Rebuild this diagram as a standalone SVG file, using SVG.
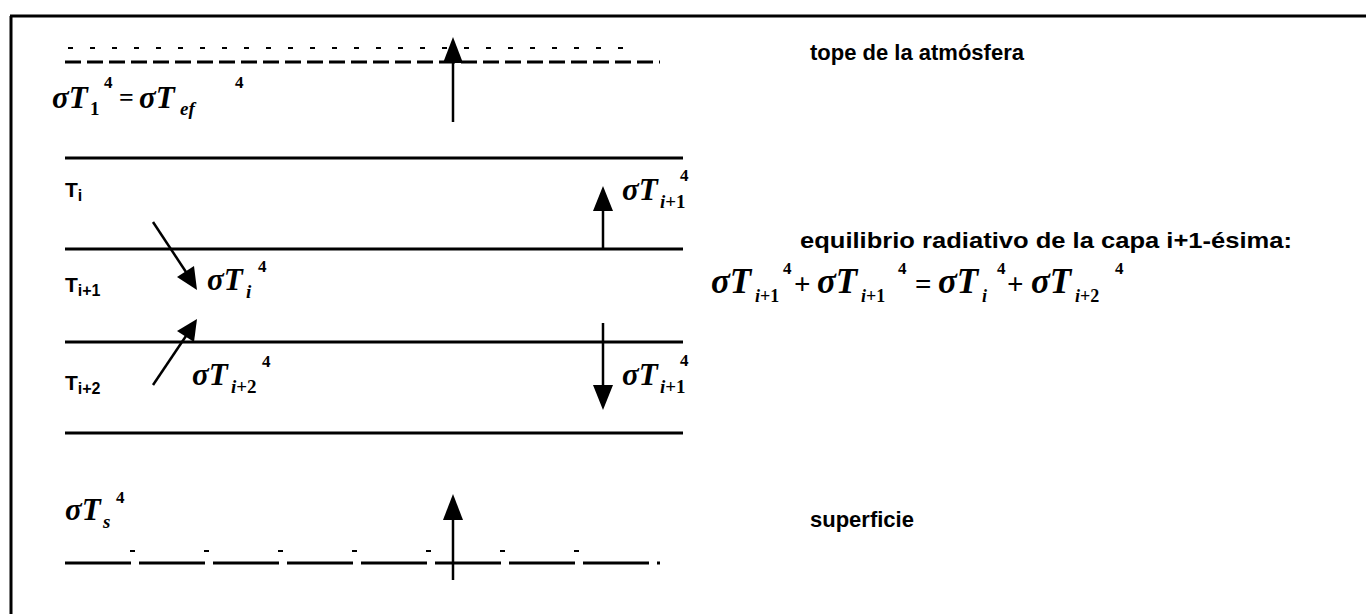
<svg xmlns="http://www.w3.org/2000/svg" width="1366" height="614" viewBox="0 0 1366 614">
<defs>
<style>
.ln{stroke:#000;stroke-width:3;fill:none}
.ar{stroke:#000;stroke-width:2.5;fill:none}
.m{font-family:"Liberation Serif",serif;font-style:italic;font-weight:bold;font-size:31px;fill:#000}
.me{font-family:"Liberation Serif",serif;font-style:italic;font-weight:bold;font-size:35px;fill:#000}
.sb{font-family:"Liberation Serif",serif;font-style:italic;font-weight:bold;font-size:19px;fill:#000}
.sbe{font-family:"Liberation Serif",serif;font-style:italic;font-weight:bold;font-size:18px;fill:#000}
.up{font-style:normal}
.sp{font-family:"Liberation Serif",serif;font-weight:bold;font-size:17px;fill:#000}
.op{font-family:"Liberation Serif",serif;font-weight:bold;font-size:26px;fill:#000}
.ope{font-family:"Liberation Serif",serif;font-weight:bold;font-size:29px;fill:#000}
.t{font-family:"Liberation Sans",Arial,sans-serif;font-weight:bold;font-size:22px;fill:#000}
.tl{font-family:"Liberation Sans",Arial,sans-serif;font-weight:bold;font-size:21px;fill:#000}
.ts{font-size:16px}
</style>
</defs>
<rect width="1366" height="614" fill="#fff"/>
<g id="frame">
<line class="ln" x1="10" y1="16" x2="1366" y2="16"/>
<line class="ln" x1="11" y1="16" x2="11" y2="614"/>
</g>
<g id="layers">
<line x1="65" y1="62" x2="660" y2="62" stroke="#000" stroke-width="3" stroke-dasharray="16,6"/>
<line x1="68" y1="48" x2="640" y2="48" stroke="#000" stroke-width="2" stroke-dasharray="5,17"/>
<line class="ln" x1="65" y1="158" x2="683" y2="158"/>
<line class="ln" x1="65" y1="249" x2="683" y2="249"/>
<line class="ln" x1="65" y1="342" x2="683" y2="342"/>
<line class="ln" x1="65" y1="433" x2="683" y2="433"/>
<line x1="65" y1="563" x2="660" y2="563" stroke="#000" stroke-width="3" stroke-dasharray="66,8"/>
<line x1="130" y1="551" x2="600" y2="551" stroke="#000" stroke-width="2" stroke-dasharray="5,69"/>
</g>
<g id="connectors">
<line class="ar" x1="453" y1="122" x2="453" y2="60"/>
<path d="M453,37 L443,63 L463,63 Z" fill="#000"/>
<line class="ar" x1="603" y1="249" x2="603" y2="208"/>
<path d="M603,186 L593,211 L613,211 Z" fill="#000"/>
<line class="ar" x1="603" y1="323" x2="603" y2="388"/>
<path d="M603,410 L593,385 L613,385 Z" fill="#000"/>
<line class="ar" x1="153" y1="222" x2="186" y2="272"/>
<path d="M197,290 L177,277 L194,266 Z" fill="#000"/>
<line class="ar" x1="153" y1="385" x2="186" y2="336"/>
<path d="M197,319 L194,342 L177,331 Z" fill="#000"/>
<line class="ar" x1="453" y1="580" x2="453" y2="518"/>
<path d="M453,494 L443,520 L463,520 Z" fill="#000"/>
</g>
<g id="label-top">
<text class="m" x="52" y="108">σT</text>
<text class="sb up" x="90" y="115">1</text>
<text class="sp" x="104" y="88">4</text>
<text class="op" x="119" y="106">=</text>
<text class="m" x="139" y="108">σT</text>
<text class="sb" x="180" y="115">ef</text>
<text class="sp" x="235" y="88">4</text>
</g>
<g id="label-Ti">
<text class="tl" x="65" y="197">T<tspan class="ts" dy="4">i</tspan></text>
</g>
<g id="label-Ti1">
<text class="tl" x="65" y="292">T<tspan class="ts" dy="4">i+1</tspan></text>
</g>
<g id="label-Ti2">
<text class="tl" x="65" y="390">T<tspan class="ts" dy="4">i+2</tspan></text>
</g>
<g id="flux-up-i1">
<text class="m" x="622" y="200">σT</text>
<text class="sb" x="660" y="208">i<tspan class="up">+1</tspan></text>
<text class="sp" x="680" y="181">4</text>
</g>
<g id="flux-Ti">
<text class="m" x="207" y="290">σT</text>
<text class="sb" x="246" y="298">i</text>
<text class="sp" x="258" y="272">4</text>
</g>
<g id="flux-Ti2">
<text class="m" x="192" y="385">σT</text>
<text class="sb" x="231" y="393">i<tspan class="up">+2</tspan></text>
<text class="sp" x="262" y="367">4</text>
</g>
<g id="flux-down-i1">
<text class="m" x="622" y="385">σT</text>
<text class="sb" x="660" y="393">i<tspan class="up">+1</tspan></text>
<text class="sp" x="680" y="366">4</text>
</g>
<g id="label-Ts">
<text class="m" x="65" y="520">σT</text>
<text class="sb" x="103" y="528">s</text>
<text class="sp" x="116" y="503">4</text>
</g>
<g id="equation">
<text class="me" x="711" y="293">σT</text>
<text class="sbe" x="755" y="302">i<tspan class="up">+1</tspan></text>
<text class="sp" x="783" y="274">4</text>
<text class="ope" x="794" y="294">+</text>
<text class="me" x="817" y="293">σT</text>
<text class="sbe" x="861" y="302">i<tspan class="up">+1</tspan></text>
<text class="sp" x="898" y="274">4</text>
<text class="ope" x="915" y="294">=</text>
<text class="me" x="938" y="293">σT</text>
<text class="sbe" x="982" y="302">i</text>
<text class="sp" x="997" y="274">4</text>
<text class="ope" x="1007" y="294">+</text>
<text class="me" x="1031" y="293">σT</text>
<text class="sbe" x="1075" y="302">i<tspan class="up">+2</tspan></text>
<text class="sp" x="1115" y="274">4</text>
</g>
<g id="texts">
<text class="t" x="810" y="60">tope de la atmósfera</text>
<text class="t" x="800" y="248" textLength="492" lengthAdjust="spacingAndGlyphs">equilibrio radiativo de la capa i+1-ésima:</text>
<text class="t" x="810" y="527">superficie</text>
</g>
</svg>
